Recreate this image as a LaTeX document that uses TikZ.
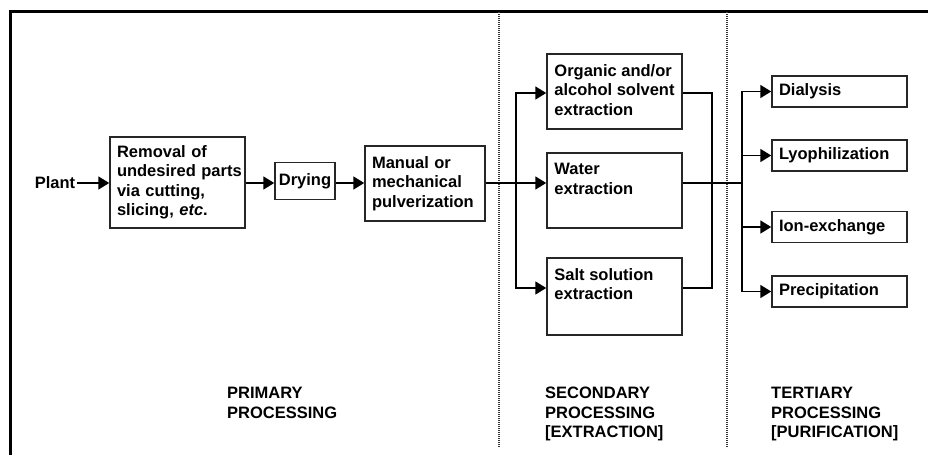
\documentclass[tikz,border=0pt]{standalone}
\usepackage{fontspec}
\setmainfont{Liberation Sans}
\usetikzlibrary{arrows.meta}
\begin{document}
\begin{tikzpicture}[x=1pt,y=-1pt,
  font=\fontsize{16.5}{19.5}\selectfont\bfseries,
  box/.style={draw=black!85, line width=1.5pt, inner ysep=0pt, inner xsep=7pt, align=left},
  txt/.style={inner sep=0pt, align=left, anchor=north west},
  ln/.style={line width=1.8pt, black},
  arr/.style={ln, -{Triangle[length=11pt,width=13pt]}},
  sep/.style={dash pattern=on 1pt off 1pt, line width=1.3pt, black!80},
  frame/.style={line width=2.2pt, black}]
\useasboundingbox (0,0) rectangle (928,455);
% frame and separators
\draw[frame] (928,11.5) -- (10.5,11.5) -- (10.5,455);
\draw[sep] (499,12) -- (499,447);
\draw[sep] (727,12) -- (727,447);
% axis coordinates
\coordinate (axis) at (0,183);
\coordinate (oa) at (0,93);
\coordinate (sa) at (0,288);
\coordinate (br) at (516,183);
\coordinate (jr) at (712,183);
\coordinate (tj) at (742,183);
% primary
\node[inner sep=1.5pt] (plant) at (55,183) {Plant};
\node[box, minimum width=135, minimum height=91, text width=121] (rem) at (177.5,182.5)
  {Removal of\\undesired~parts\\via cutting,\\slicing, \textit{etc}.};
\node[box, minimum width=60, minimum height=37, inner xsep=0pt, align=center] (dry) at (305,181) {Drying};
\node[box, minimum width=120, minimum height=75, text width=106] (man) at (425,183.5)
  {Manual or\\mechanical\\pulverization};
% secondary
\node[box, minimum width=135, minimum height=75] (org) at (614.5,91.5) {};
\node[txt] (orgt) at ([shift={(8,11)}]org.north west) {Organic and/or\\alcohol solvent\\extraction};
\node[box, minimum width=135, minimum height=75] (wat) at (614.5,190.5) {};
\node[txt] (watt) at ([shift={(8,11)}]wat.north west) {Water\\extraction};
\node[box, minimum width=135, minimum height=77] (salt) at (614.5,296.5) {};
\node[txt] (saltt) at ([shift={(8,11)}]salt.north west) {Salt solution\\extraction};
% tertiary
\node[box, minimum width=135, minimum height=31, text width=121] (dia) at (839.5,91.5) {Dialysis};
\node[box, minimum width=135, minimum height=31, text width=121] (lyo) at (839.5,155.5) {Lyophilization};
\node[box, minimum width=135, minimum height=31, text width=121] (ion) at (839.5,227) {Ion-exchange};
\node[box, minimum width=135, minimum height=31, text width=121] (pre) at (839.5,291.5) {Precipitation};
% labels
\node[txt] (l1) at (227,387) {PRIMARY\\PROCESSING};
\node[txt] (l2) at (545,387) {SECONDARY\\PROCESSING\\{[EXTRACTION]}};
\node[txt] (l3) at (771,387) {TERTIARY\\PROCESSING\\{[PURIFICATION]}};
% connectors
\draw[arr] (plant.east) -- (rem.west |- axis);
\draw[arr] (rem.east |- axis) -- (dry.west |- axis);
\draw[arr] (dry.east |- axis) -- (man.west |- axis);
\draw[ln] (man.east |- axis) -- (br);
\draw[arr] (br) -- (wat.west |- axis);
\draw[arr] (br) |- (org.west |- oa);
\draw[arr] (br) |- (salt.west |- sa);
\draw[ln] (org.east |- oa) -| (jr |- sa) -- (salt.east |- sa);
\draw[ln] (wat.east |- axis) -- (tj);
\foreach \t in {dia,lyo,ion,pre} \draw[arr] (tj) |- (\t.west);
\end{tikzpicture}
\end{document}
